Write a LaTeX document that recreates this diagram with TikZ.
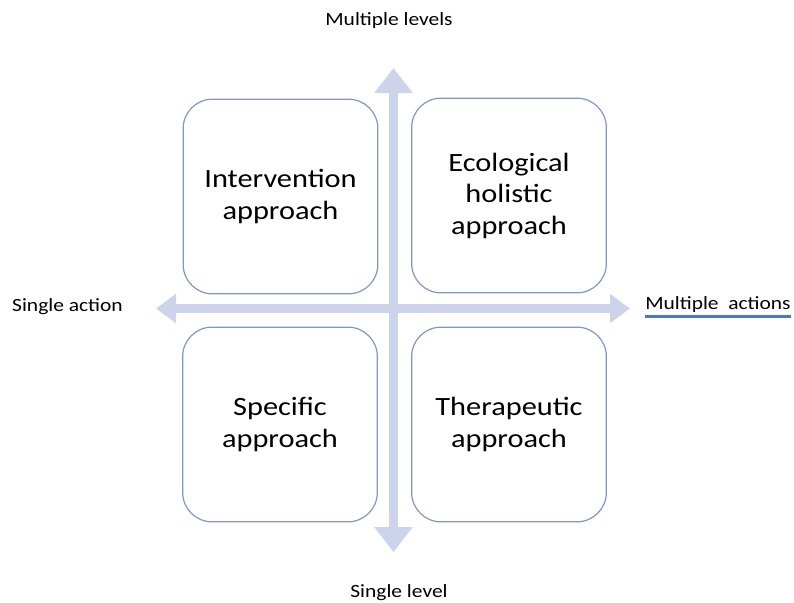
\documentclass[tikz,border=0pt]{standalone}
\usepackage{fontspec}
\setmainfont[FakeStretch=1.15]{Carlito}
\usetikzlibrary{arrows.meta}
\definecolor{arrowfill}{HTML}{CCD3EB}
\definecolor{boxline}{HTML}{8196C9}
\definecolor{ulblue}{HTML}{4A78C8}
\tikzset{
  axisv/.style={draw=arrowfill, line width=6.75pt,
    {Triangle[length=18.75pt,width=27.75pt]}-{Triangle[length=18.75pt,width=27.75pt]}},
  axish/.style={draw=arrowfill, line width=6.75pt,
    {Triangle[length=15pt,width=21pt]}-{Triangle[length=15pt,width=21pt]}},
  quad/.style={draw=boxline, line width=0.9pt, fill=white, rounded corners=22pt,
    minimum width=146pt, minimum height=146pt, align=center,
    font=\fontsize{19.8}{23.6}\selectfont, inner sep=0pt},
  lbl/.style={font=\fontsize{14}{16.8}\selectfont, inner sep=0pt, anchor=base},
  ul/.style={draw=ulblue, line width=2pt}
}
\begin{document}
\begin{tikzpicture}[x=0.75pt,y=-0.75pt]
\useasboundingbox (0,0) rectangle (794,603);
% axes
\coordinate (vt) at (393.5,68);
\coordinate (vb) at (393.5,552);
\coordinate (hl) at (156,308.5);
\coordinate (hr) at (630,308.5);
\draw[axisv] (vb) -- (vt);
\draw[axish] (hl) -- (hr);
% quadrants
\node[quad] (tl) at (280.5,196.5) {Intervention\\approach};
\node[quad] (tr) at (509,195.5) {Ecological\\holistic\\approach};
\node[quad] (bl) at (280,424.5) {Specific\\approach};
\node[quad] (br) at (509,424.5) {Therapeutic\\approach};
% labels
\node[lbl] (ml) at (389,26) {Multiple levels};
\node[lbl] (sa) at (67.5,311) {Single action};
\node[lbl, anchor=base west] (ma) at (645,309) {Multiple~~actions};
\node[lbl] (sl) at (399,597) {Single level};
\draw[ul] ([yshift=-3pt]ma.south west) -- ([yshift=-3pt]ma.south east);
\end{tikzpicture}
\end{document}
